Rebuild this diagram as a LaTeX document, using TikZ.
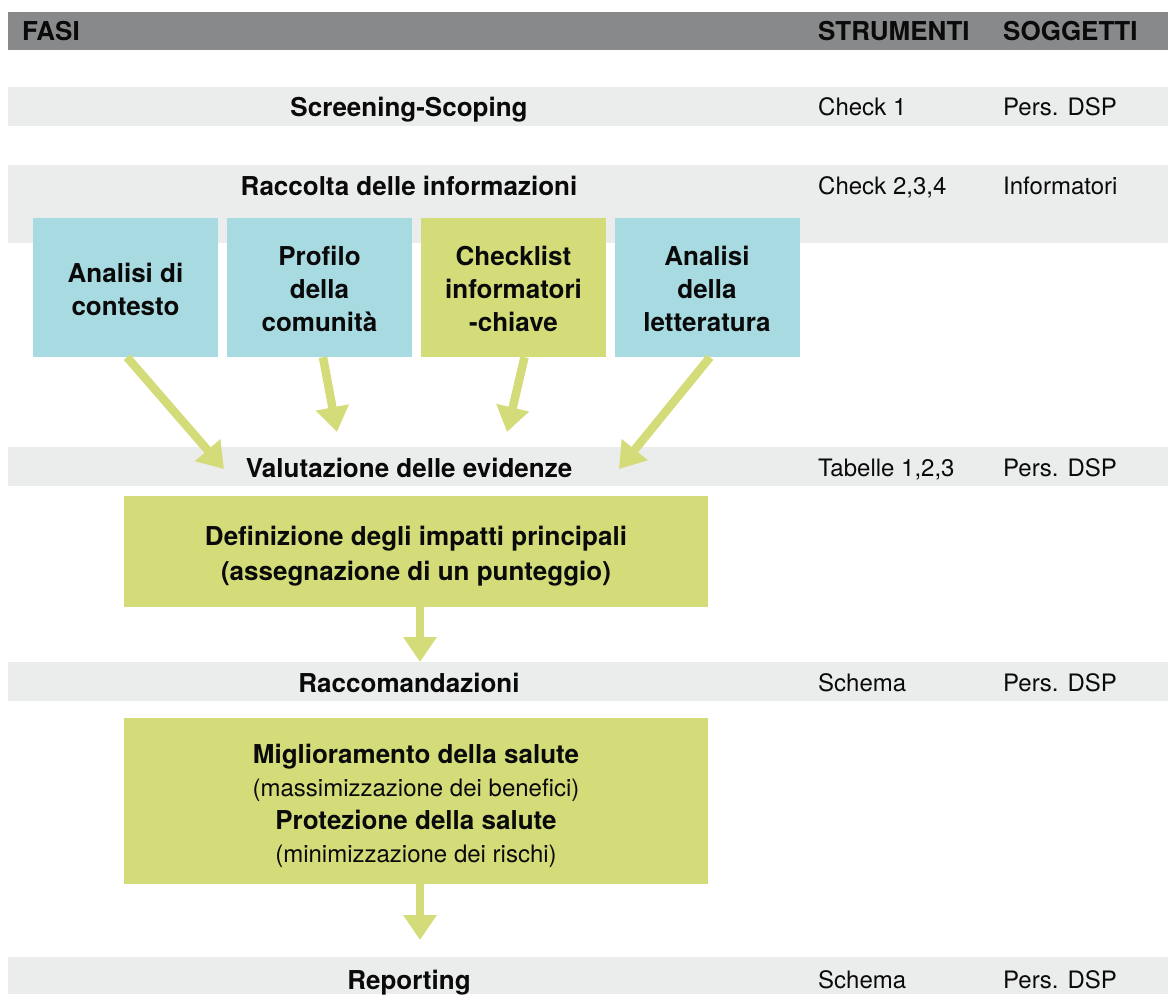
\documentclass[tikz,border=0pt]{standalone}
\usepackage{fontspec}
\setmainfont{TeX Gyre Heros}
\usetikzlibrary{arrows.meta,positioning}
\definecolor{headgray}{HTML}{88898A}
\definecolor{bandgray}{HTML}{EBECEC}
\definecolor{stepblue}{HTML}{A8DAE1}
\definecolor{stepgreen}{HTML}{D3DC78}
\definecolor{ink}{HTML}{0A0A0A}
\newcommand{\firststrut}[1]{\rule{0pt}{#1}}
\tikzset{
  headbar/.style={
    fill=headgray,
    anchor=north west,
    minimum width=1160pt,
    minimum height=38pt,
    inner sep=0pt
  },
  band/.style={
    fill=bandgray,
    anchor=north west,
    minimum width=1160pt,
    minimum height=39pt,
    inner sep=0pt
  },
  phase/.style={
    text=ink,
    anchor=base,
    font=\fontsize{26}{30}\selectfont\bfseries,
    inner sep=0pt
  },
  cell/.style={
    text=ink,
    anchor=base west,
    font=\fontsize{24}{28}\selectfont,
    inner sep=0pt
  },
  headcell/.style={
    cell,
    font=\fontsize{26}{30}\selectfont\bfseries
  },
  bluebox/.style={
    fill=stepblue,
    align=center,
    text=ink,
    minimum width=185pt,
    minimum height=139pt,
    inner sep=0pt,
    font=\fontsize{26}{33}\selectfont\bfseries
  },
  greenbox/.style={
    bluebox,
    fill=stepgreen
  },
  widebox/.style={
    greenbox,
    minimum width=584pt
  }
}
\tikzset{flowarrow/.style={-{Triangle[length=25pt,width=32pt]},line width=8.5pt,draw=stepgreen}}

\begin{document}
\begin{tikzpicture}[x=1pt,y=-1pt]
  \useasboundingbox (0,0) rectangle (1168,994);

  % header row
  \node[headbar] (head) at (8,12) {};
  \node[headcell] (fasi) at (22,40.5) {FASI};
  \node[headcell] (strumenti) at (818,40.5) {STRUMENTI};
  \node[headcell] (soggetti) at (1003,40.5) {SOGGETTI};

  % phase bands
  \node[band] (screenband) at (8,87) {};
  \node[band, minimum height=78pt] (raccband) at (8,165) {};
  \node[band] (valband) at (8,447) {};
  \node[band] (raccoband) at (8,662) {};
  \node[band, minimum height=37pt] (repband) at (8,957) {};

  \node[phase] (screening) at (409,116.5) {Screening-Scoping};
  \node[phase] (raccolta) at (409,195.5) {Raccolta delle informazioni};
  \node[phase] (valutazione) at (409,477) {Valutazione delle evidenze};
  \node[phase] (raccomandazioni) at (409,692.5) {Raccomandazioni};
  \node[phase] (reporting) at (409,989.5) {Reporting};

  \node[cell] (check1) at (818,115.7) {Check 1};
  \node[cell] (pers1) at (1003,115.7) {Pers. DSP};
  \node[cell] (check234) at (818,194.7) {Check 2,3,4};
  \node[cell] (inform) at (1003,194.7) {Informatori};
  \node[cell] (tabelle) at (818,476.7) {Tabelle 1,2,3};
  \node[cell] (pers2) at (1003,476.7) {Pers. DSP};
  \node[cell] (schema1) at (818,691.7) {Schema};
  \node[cell] (pers3) at (1003,691.7) {Pers. DSP};
  \node[cell] (schema2) at (818,988.7) {Schema};
  \node[cell] (pers4) at (1003,988.7) {Pers. DSP};

  % sources of information
  \node[bluebox] (contesto) at (125.5,287.5) {\firststrut{23pt}Analisi di\\contesto};
  \node[bluebox] (profilo) at (319.5,287.5) {\firststrut{23pt}Profilo\\della\\comunità};
  \node[greenbox] (checklist) at (513.5,287.5) {\firststrut{23pt}Checklist\\informatori\\-chiave};
  \node[bluebox] (letteratura) at (707,287.5) {\firststrut{23pt}Analisi\\della\\letteratura};

  \node[widebox, minimum height=111pt, font=\fontsize{26}{35}\selectfont\bfseries] (impatti) at (416,551.5)
    {\firststrut{29pt}Definizione degli impatti principali\\(assegnazione di un punteggio)};
  \node[widebox, minimum height=166pt, font=\fontsize{24}{33}\selectfont] (salute) at (416,801)
    {\fontsize{26}{33}\selectfont\bfseries\firststrut{29pt}Miglioramento della salute\\(massimizzazione dei benefici)\\
     \fontsize{26}{33}\selectfont\bfseries Protezione della salute\\(minimizzazione dei rischi)};

  \coordinate (tipA) at (224,469);
  \coordinate (tipB) at (337,432);
  \coordinate (tipC) at (507,432);
  \coordinate (tipD) at (619,469);

  \draw[flowarrow] ([xshift=1.5pt]contesto.south) -- (tipA);
  \draw[flowarrow] ([xshift=3.5pt]profilo.south) -- (tipB);
  \draw[flowarrow] ([xshift=11pt]checklist.south) -- (tipC);
  \draw[flowarrow] ([xshift=3pt]letteratura.south) -- (tipD);
  \draw[flowarrow] (impatti.south -| 420,0) -- (raccoband.north -| 420,0);
  \draw[flowarrow] (salute.south -| 420,0) -- (420,940);
\end{tikzpicture}
\end{document}
